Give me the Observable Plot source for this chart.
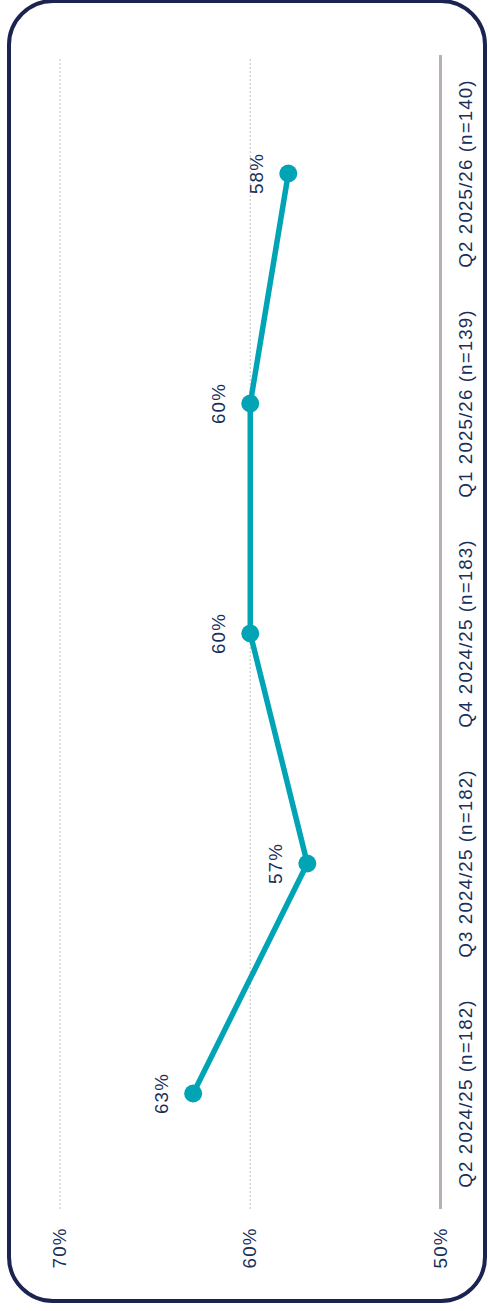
<!DOCTYPE html>
<html>
<head>
<meta charset="utf-8">
<script src="https://cdn.jsdelivr.net/npm/d3@7"></script>
<script src="https://cdn.jsdelivr.net/npm/@observablehq/plot@0.6"></script>
<style>
  html, body { margin: 0; padding: 0; background: #fff; }
  body { width: 488px; height: 1311px; overflow: hidden; position: relative; }
  #frame {
    position: absolute; left: 7px; top: -1px; width: 480px; height: 1304px;
    box-sizing: border-box; border: 4px solid #1b2350; border-radius: 46px;
  }
  #rot {
    position: absolute; left: 0; top: 0; width: 1311px; height: 488px;
    transform-origin: 0 0; transform: translate(0px, 1311px) rotate(-90deg);
  }
</style>
</head>
<body>
<div id="frame"></div>
<div id="rot"></div>
<script>
const categories = [
  "Q2 2024/25 (n=182)",
  "Q3 2024/25 (n=182)",
  "Q4 2024/25 (n=183)",
  "Q1 2025/26 (n=139)",
  "Q2 2025/26 (n=140)"
];
const values = [63, 57, 60, 60, 58];
const axisTicks = [50, 60, 70];
const gridTicks = [60, 70];

const data = categories.map((c, i) => ({cat: c, value: values[i]}));
const textColor = "#17305a";
const lineColor = "#00A4B4";

const chart = Plot.plot({
  width: 1311,
  height: 488,
  marginLeft: 102,
  marginRight: 59,
  marginTop: 59.5,
  marginBottom: 48,
  style: {fontFamily: "'Liberation Sans', Arial, sans-serif", fontSize: "18.8px", letterSpacing: "1.1px", color: textColor, background: "transparent", overflow: "visible"},
  x: {type: "point", domain: categories, padding: 0.5, axis: null, label: null},
  y: {domain: [50, 70], axis: null, label: null},
  marks: [
    Plot.ruleY(gridTicks, {stroke: "#cccccc", strokeWidth: 1.2, strokeDasharray: "2,2"}),
    Plot.ruleY([50], {stroke: "#b9b1b1", strokeWidth: 3, insetRight: -4}),
    Plot.axisY(axisTicks, {tickSize: 0, tickPadding: 19, tickFormat: d => d + "%", fill: textColor}),
    Plot.axisX({tickSize: 0, tickPadding: 18, fill: textColor, style: {letterSpacing: "1.7px"}}),
    Plot.line(data, {x: "cat", y: "value", stroke: lineColor, strokeWidth: 5.5}),
    Plot.dot(data, {x: "cat", y: "value", r: 9, fill: lineColor, stroke: "none"}),
    Plot.text(data, {x: "cat", y: "value", text: d => d.value + "%", dy: -31, lineAnchor: "middle", fill: textColor})
  ]
});
document.getElementById("rot").appendChild(chart);
</script>
</body>
</html>
